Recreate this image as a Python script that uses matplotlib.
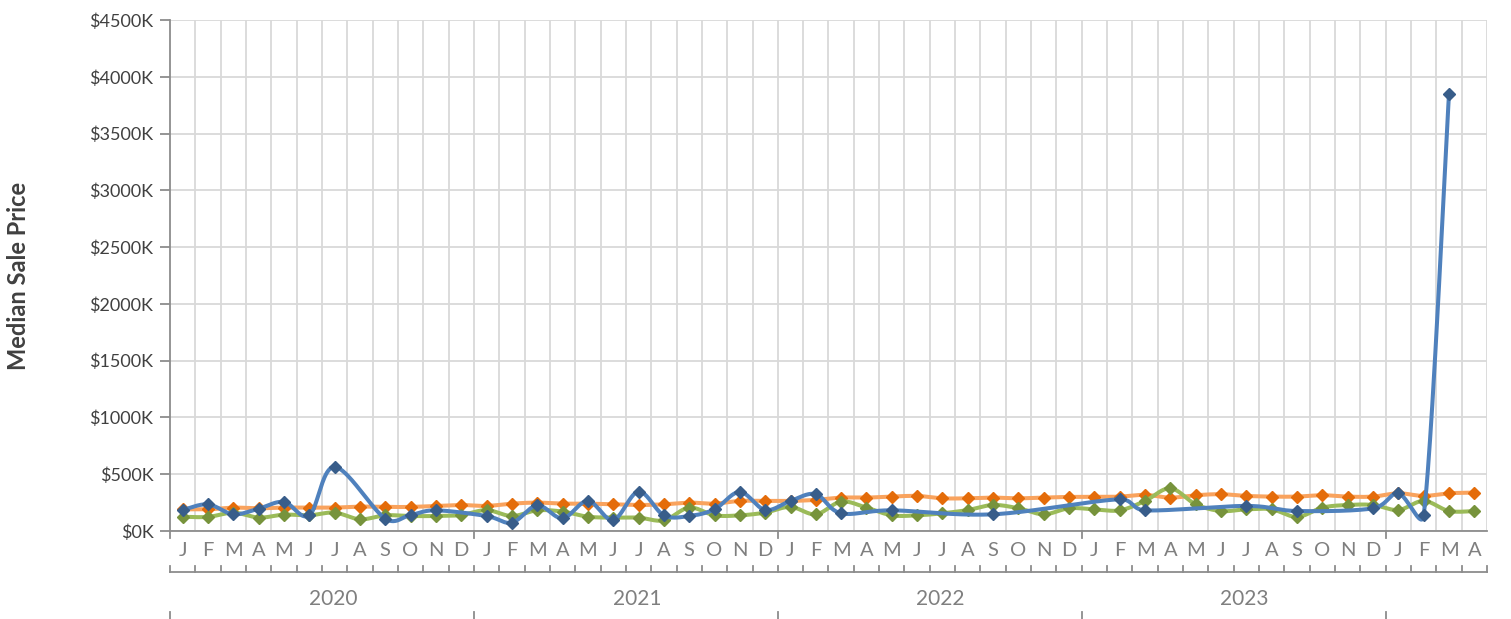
import numpy as np
import matplotlib
matplotlib.use("Agg")
import matplotlib.pyplot as plt
from matplotlib.transforms import blended_transform_factory

# ---------------- data ----------------
months = ["J", "F", "M", "A", "M", "J", "J", "A", "S", "O", "N", "D"] * 4 + ["J", "F", "M", "A"]
years = ["2020", "2021", "2022", "2023", ""]
year_sizes = [12, 12, 12, 12, 4]

blue = [185, 235, 147, 197, 256, 138, 565, None, 109, 141, 182, None,
        132, 74, 226, 112, 265, 97, 347, 138, 132, 191, 344, 185,
        265, 324, 156, None, 182, None, None, None, 147, None, None, None,
        None, 279, 182, None, None, None, 221, None, 176, None, None, 200,
        332, 138, 3850, None]
orange = [191, 191, 206, 200, 206, 206, 206, 215, 212, 212, 221, 229,
          221, 241, 250, 241, 241, 235, 229, 235, 250, 241, 265, 265,
          265, 274, 294, 294, 303, 309, 288, 288, 294, 288, 294, 300,
          300, 303, 318, 294, 315, 324, 309, 303, 303, 315, 303, 303,
          332, 309, 332, 338]
green = [126, 124, 162, 118, 144, 138, 162, 103, 138, 132, 132, 141,
         184, 132, 182, 171, 126, 118, 118, 94, 206, 138, 138, 162,
         212, 147, 259, 206, 138, 138, 156, 185, 229, 200, 147, 200,
         191, 182, 265, 376, 235, 176, 191, 191, 124, 206, 229, 229,
         185, 265, 176, 176]

y_ticks = list(range(0, 4501, 500))
y_ticklabels = [f"${v}K" for v in y_ticks]

# ---------------- style ----------------
FONT = ["Lato", "DejaVu Sans"]
plt.rcParams["font.family"] = FONT
GRID = "#D9D9D9"
AXIS = "#8C8C8C"

fig = plt.figure(figsize=(15.11, 6.19), dpi=100)
W, H = 1511, 619
L, R, T, B = 170, 1487, 20, 531
ax = fig.add_axes([L / W, (H - B) / H, (R - L) / W, (B - T) / H])

n = len(months)
ax.set_xlim(-0.5, n - 0.5)
ax.set_ylim(0, 4500)

# grid
for v in y_ticks:
    ax.axhline(v, color=GRID, lw=1.3, zorder=0)
for k in range(1, n + 1):
    ax.axvline(k - 0.5, color=GRID, lw=1.3, zorder=0)

for s in ["top", "right"]:
    ax.spines[s].set_visible(False)
ax.spines["left"].set_color(AXIS)
ax.spines["bottom"].set_color(AXIS)
ax.spines["left"].set_linewidth(1.3)
ax.spines["bottom"].set_linewidth(1.3)

ax.set_yticks(y_ticks)
ax.set_yticklabels(y_ticklabels, fontsize=13, color="#404040")
ax.tick_params(axis="y", length=7, color=AXIS, width=1.3, pad=5)

ax.set_xticks([])
fig.text(19 / W, (H - 276) / H, "Median Sale Price", rotation=90, ha="center", va="center",
         fontsize=17, fontweight="bold", color="#404040")


def excel_smooth(xs, ys, ax, nseg=40):
    pts = ax.transData.transform(np.column_stack([xs, ys]))
    m = len(pts)
    out_c = []
    in_c = []
    for i in range(m):
        prev = pts[i - 1] if i > 0 else pts[i]
        nxt = pts[i + 1] if i < m - 1 else pts[i]
        tvec = (nxt - prev) / 6.0
        tl = np.hypot(*tvec)
        d_prev = np.hypot(*(pts[i] - prev))
        d_next = np.hypot(*(nxt - pts[i]))
        a_out = tvec.copy()
        a_in = tvec.copy()
        if tl > 0:
            if tl > d_next / 2:
                a_out = tvec / tl * (d_next / 2)
            if tl > d_prev / 2:
                a_in = tvec / tl * (d_prev / 2)
        out_c.append(pts[i] + a_out)
        in_c.append(pts[i] - a_in)
    curve = [pts[0]]
    t = np.linspace(0, 1, nseg)[1:, None]
    for i in range(m - 1):
        p0, p1, p2, p3 = pts[i], out_c[i], in_c[i + 1], pts[i + 1]
        seg = ((1 - t) ** 3) * p0 + 3 * ((1 - t) ** 2) * t * p1 + 3 * (1 - t) * t ** 2 * p2 + t ** 3 * p3
        curve.extend(seg)
    curve = np.array(curve)
    return ax.transData.inverted().transform(curve)


series = [
    (orange, "#F9A35E", "#E46C0A"),
    (green, "#9BBB59", "#77933C"),
    (blue, "#4F81BD", "#385D8A"),
]
for z, (vals, lc, mc) in enumerate(series):
    xs = np.array([i for i, v in enumerate(vals) if v is not None], dtype=float)
    ys = np.array([v for v in vals if v is not None], dtype=float)
    c = excel_smooth(xs, ys, ax)
    ax.plot(c[:, 0], c[:, 1], color=lc, lw=2.9, solid_capstyle="round", zorder=3 + z * 2, clip_on=False)
    ax.plot(xs, ys, linestyle="none", marker="D", markersize=6.3, color=mc, zorder=4 + z * 2, clip_on=False)

# ---------------- multi-level category axis ----------------
tr = blended_transform_factory(ax.transData, ax.transAxes)
px = 1.0 / (B - T)  # one pixel in axes fraction


def ypos(py):
    return (B - py) * px


bounds = np.cumsum([0] + year_sizes) - 0.5
for b in bounds[:-1]:
    ax.plot([b, b], [ypos(531), ypos(538)], color=AXIS, lw=1.3, transform=tr, clip_on=False)
for i, mlab in enumerate(months):
    ax.text(i, ypos(551), mlab, transform=tr, ha="center", va="center", fontsize=14.5, color="#7F7F7F")
ax.plot([-0.5, n - 0.5], [ypos(572), ypos(572)], color=AXIS, lw=1.3, transform=tr, clip_on=False)
for k in range(n + 1):
    ax.plot([k - 0.5, k - 0.5], [ypos(566), ypos(572)], color=AXIS, lw=1.3, transform=tr, clip_on=False)
year_shift = 0.43
for yl, a, b in zip(years, bounds[:-1], bounds[1:]):
    if yl:
        ax.text((a + b) / 2 + year_shift, ypos(599), yl, transform=tr, ha="center", va="center",
                fontsize=15, color="#7F7F7F")
for b in bounds[:-1]:
    ax.plot([b, b], [ypos(612), ypos(622)], color=AXIS, lw=1.3, transform=tr, clip_on=False)

fig.savefig("out.png", dpi=100)
